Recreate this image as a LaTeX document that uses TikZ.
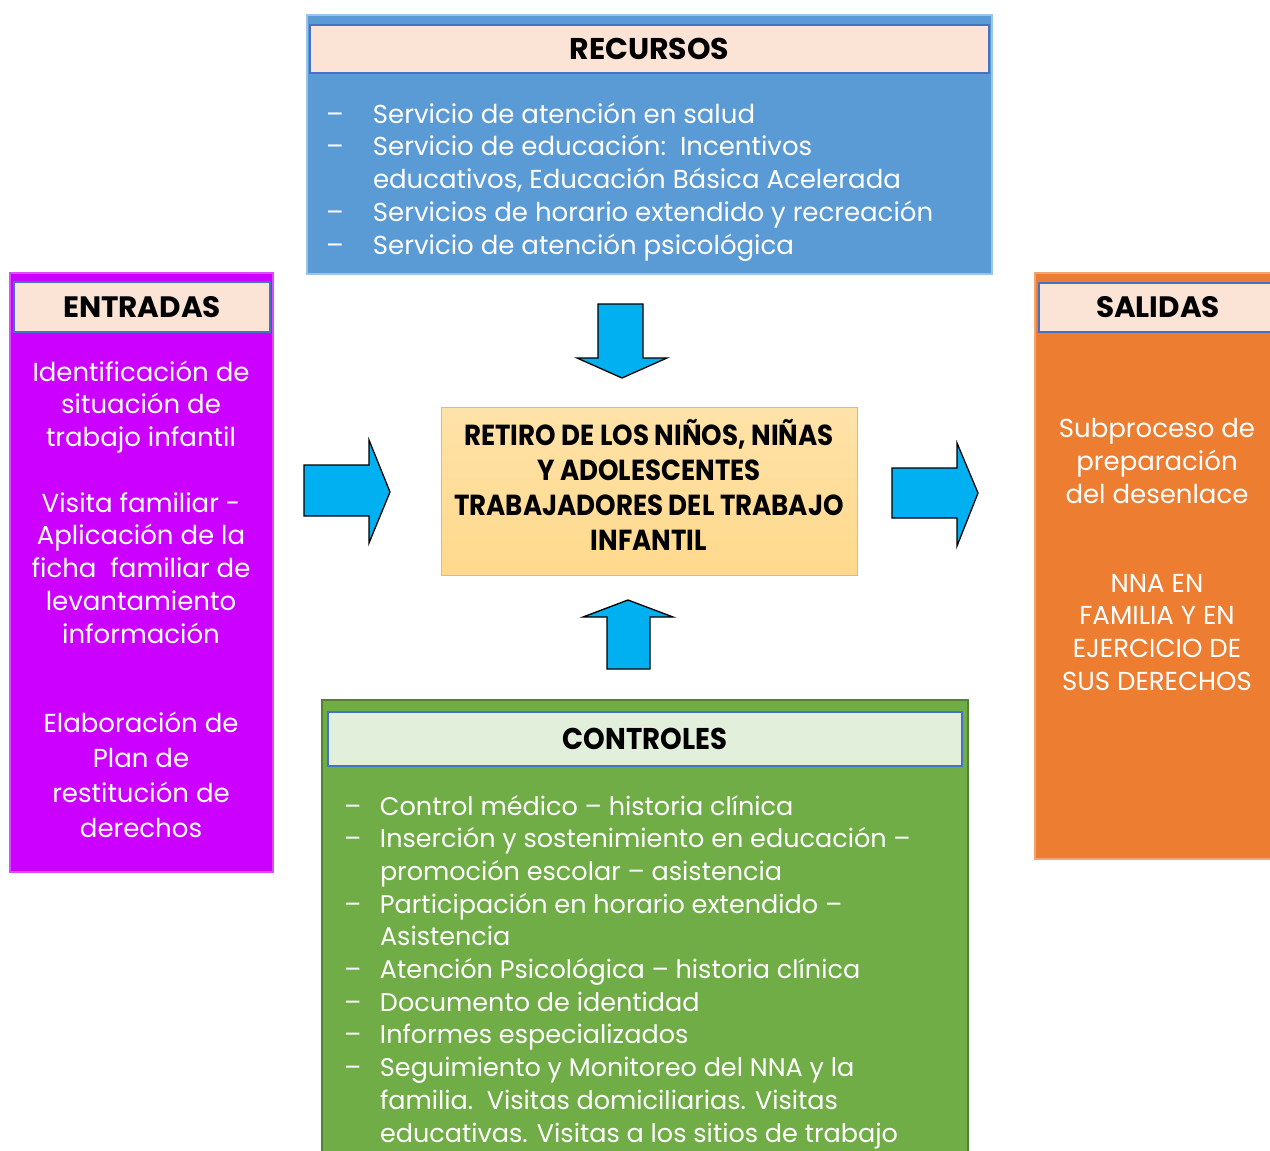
\documentclass[tikz,border=0pt]{standalone}
\usepackage{fontspec}
\setmainfont{Poppins}
\newfontfamily\condfont[FakeStretch=0.9]{Poppins}
\newfontfamily\hdcondfont[FakeStretch=0.92]{Poppins}
\definecolor{recblue}{HTML}{5B9BD5}
\definecolor{hdrfill}{HTML}{FBE4D6}
\definecolor{hdrline}{HTML}{4472C4}
\definecolor{entpurple}{HTML}{CC00FF}
\definecolor{salorange}{HTML}{ED7D31}
\definecolor{ctrgreen}{HTML}{70AD47}
\definecolor{ctrline}{HTML}{548235}
\definecolor{ctrhdr}{HTML}{E2EFDA}
\definecolor{midfill}{HTML}{FFD98C}
\definecolor{midline}{HTML}{FFC000}
\definecolor{arrblue}{HTML}{00B0F0}
\newcommand{\listlines}[3]{\begin{minipage}[t]{#1}\fontsize{#2}{#3}\selectfont\lineskiplimit=-100pt\lineskip=0pt}
\begin{document}
\begin{tikzpicture}[x=1pt,y=-1pt,
  panel/.style={anchor=north west, inner sep=0, outer sep=0},
  hdr/.style={anchor=north west, inner sep=0, outer sep=0, draw=hdrline, line width=1.6pt, font=\fontsize{29.5}{30}\selectfont\bfseries},
  blockarrow/.style={fill=arrblue, draw=black, line width=1.3pt, line join=miter},
  txt/.style={inner sep=0, outer sep=0, text=white}
]
\useasboundingbox (0,0) rectangle (1270,1151);
\clip (0,0) rectangle (1270,1151);
\fill[white] (0,0) rectangle (1270,1151);

% RECURSOS
\node[panel, fill=recblue, draw=recblue!60!white, line width=1.2pt, minimum width=685, minimum height=259] (rec) at (307,15) {};
\node[hdr, fill=hdrfill, minimum width=679, minimum height=48, font=\fontsize{30}{30}\selectfont\bfseries] (rechdr) at (310,25) {RECURSOS};
\node[txt, anchor=base west] (reclist) at (326,123) {\listlines{640pt}{26}{32.75}%
\hangindent=47pt\hangafter=1\noindent\makebox[47pt][l]{–}Servicio de atención en salud\par
\hangindent=47pt\hangafter=1\noindent\makebox[47pt][l]{–}Servicio de educación:\ \ Incentivos\\educativos, Educación Básica Acelerada\par
\hangindent=47pt\hangafter=1\noindent\makebox[47pt][l]{–}Servicios de horario extendido y recreación\par
\hangindent=47pt\hangafter=1\noindent\makebox[47pt][l]{–}Servicio de atención psicológica\par
\end{minipage}};

% ENTRADAS
\node[panel, fill=entpurple, draw=entpurple!70!white, line width=1.2pt, minimum width=263, minimum height=599] (ent) at (10,273) {};
\node[hdr, fill=hdrfill, minimum width=256, minimum height=50] (enthdr) at (14,282) {ENTRADAS};
\node[txt, anchor=base] (ent1) at (141,381) {\listlines{250pt}{26}{32.5}\centering
Identificación de\\situación de\\trabajo infantil\par\end{minipage}};
\node[txt, anchor=base] (ent2) at (141,512) {\listlines{250pt}{26}{32.75}\centering
Visita familiar -\\Aplicación de la\\ficha\ \ familiar de\\levantamiento\\información\par\end{minipage}};
\node[txt, anchor=base] (ent3) at (141,732) {\listlines{250pt}{26}{35}\centering
Elaboración de\\Plan de\\restitución de\\derechos\par\end{minipage}};

% SALIDAS
\node[panel, fill=salorange, draw=salorange!70!white, line width=1.2pt, minimum width=240, minimum height=586] (sal) at (1035,273) {};
\node[hdr, fill=hdrfill, minimum width=238, minimum height=49] (salhdr) at (1039,283) {SALIDAS};
\node[txt, anchor=base] (sal1) at (1157,437) {\listlines{230pt}{26}{33}\centering
Subproceso de\\preparación\\del desenlace\par\end{minipage}};
\node[txt, anchor=base] (sal2) at (1157,592) {\listlines{230pt}{26}{32.7}\centering
NNA EN\\FAMILIA Y EN\\EJERCICIO DE\\SUS DERECHOS\par\end{minipage}};

% CENTRO
\node[panel, top color=midfill!75!white, bottom color=midfill, draw=midline, line width=1pt, minimum width=416, minimum height=168] (mid) at (441,407) {};
\node[inner sep=0, outer sep=0, align=center, font=\fontsize{29}{35}\selectfont\condfont\bfseries] (midtxt) at (649,485) {RETIRO DE LOS NIÑOS, NIÑAS\\Y ADOLESCENTES\\TRABAJADORES DEL TRABAJO\\INFANTIL};

% CONTROLES
\node[panel, fill=ctrgreen, draw=ctrline, line width=2pt, minimum width=646, minimum height=470] (ctr) at (322,700) {};
\node[hdr, fill=ctrhdr, minimum width=634, minimum height=54, font=\fontsize{30}{30}\selectfont\hdcondfont\bfseries] (ctrhdr) at (328,712) {CONTROLES};
\node[txt, anchor=base west] (ctrlist) at (344,815) {\listlines{620pt}{25.5}{32.7}%
\hangindent=36pt\hangafter=1\noindent\makebox[36pt][l]{–}Control médico – historia clínica\par
\hangindent=36pt\hangafter=1\noindent\makebox[36pt][l]{–}Inserción y sostenimiento en educación –\\promoción escolar – asistencia\par
\hangindent=36pt\hangafter=1\noindent\makebox[36pt][l]{–}Participación en horario extendido –\\Asistencia\par
\hangindent=36pt\hangafter=1\noindent\makebox[36pt][l]{–}Atención Psicológica – historia clínica\par
\hangindent=36pt\hangafter=1\noindent\makebox[36pt][l]{–}Documento de identidad\par
\hangindent=36pt\hangafter=1\noindent\makebox[36pt][l]{–}Informes especializados\par
\hangindent=36pt\hangafter=1\noindent\makebox[36pt][l]{–}Seguimiento y Monitoreo del NNA y la\\familia.\ \ Visitas domiciliarias. Visitas\\educativas. Visitas a los sitios de trabajo\par
\end{minipage}};

% FLECHAS
\draw[blockarrow] (598,304) -- (643,304) -- (643,358) -- (667,358) -- (622,378) -- (577,358) -- (598,358) -- cycle;
\draw[blockarrow] (607,669) -- (650,669) -- (650,617) -- (673,617) -- (628,600) -- (583,617) -- (607,617) -- cycle;
\draw[blockarrow] (304,465) -- (369,465) -- (369,440) -- (390,492) -- (369,543) -- (369,516) -- (304,516) -- cycle;
\draw[blockarrow] (892,468) -- (957,468) -- (957,443) -- (978,493) -- (957,546) -- (957,518) -- (892,518) -- cycle;
\end{tikzpicture}
\end{document}
